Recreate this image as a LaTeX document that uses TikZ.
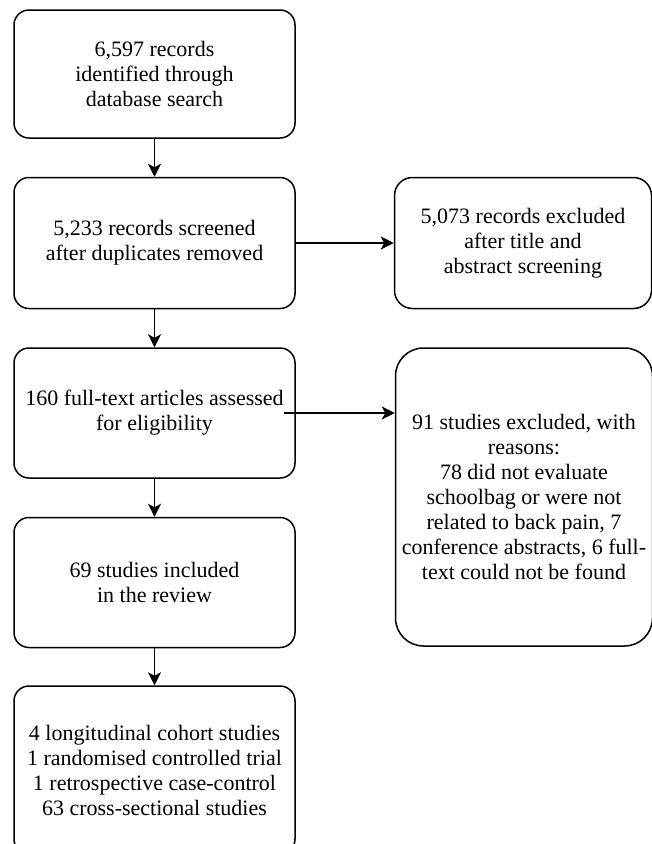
\documentclass[tikz,border=0pt]{standalone}
\usepackage{fontspec}
\setmainfont{Liberation Serif}
\usetikzlibrary{arrows.meta,positioning}

\begin{document}
\begin{tikzpicture}[
  box/.style={draw,rounded corners=15pt,line width=1.5pt,align=center,
              font=\fontsize{22}{25}\selectfont,inner sep=2pt,minimum width=281pt},
  side/.style={box,minimum width=257pt},
  arr/.style={-{Stealth[length=13pt,width=13pt,inset=3.5pt]},line width=1.5pt}
]
\useasboundingbox (0pt,0pt) rectangle (652pt,-844pt);
\node[box,minimum height=128pt] (b1) at (154.5pt,-74pt) {6,597 records\\identified through\\database search};
\node[box,minimum height=131pt,below=38pt of b1] (b2) {5,233 records screened\\after duplicates removed};
\node[box,minimum height=130pt,below=38pt of b2] (b3) {160 full-text articles assessed\\for eligibility};
\node[box,minimum height=130pt,below=38pt of b3] (b4) {69 studies included\\in the review};
\node[box,minimum height=168pt,below=37pt of b4] (b5) {4 longitudinal cohort studies\\1 randomised controlled trial\\1 retrospective case-control\\63 cross-sectional studies};
\node[side,minimum height=131pt,rounded corners=18pt,right=98pt of b2] (ex1) {5,073 records excluded\\after title and\\abstract screening};
\node[side,minimum height=298pt,rounded corners=28pt,anchor=north west] (ex2) at ([xshift=99pt]b3.north east) {91 studies excluded, with\\reasons:\\78 did not evaluate\\schoolbag or were not\\related to back pain, 7\\conference abstracts, 6 full-\\text could not be found};
\draw[arr] (b1) -- (b2);
\draw[arr] (b2) -- (b3);
\draw[arr] (b3) -- (b4);
\draw[arr] (b4) -- (b5);
\draw[arr] (b2) -- (ex1);
\draw[arr] ([xshift=-12pt]b3.east) -- (b3.east -| ex2.west);
\end{tikzpicture}
\end{document}
